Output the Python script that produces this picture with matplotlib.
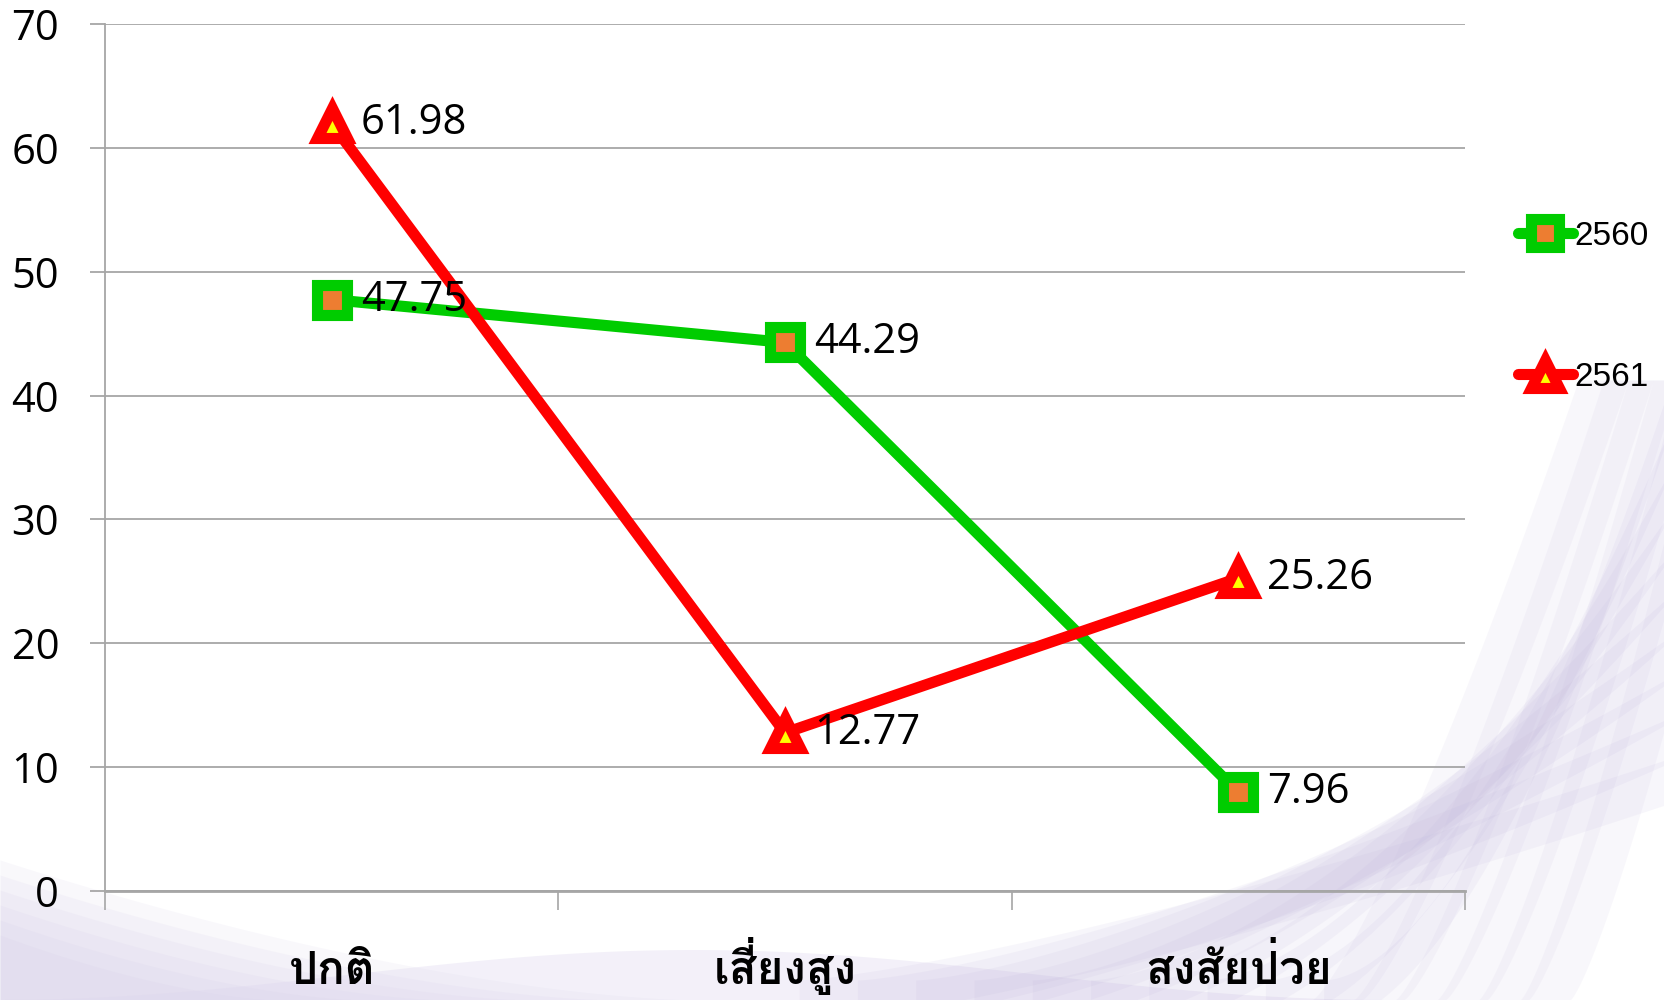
import matplotlib
matplotlib.use("Agg")
import matplotlib.pyplot as plt
import matplotlib.transforms as mtransforms
import numpy as np
from matplotlib import font_manager

categories = ["ปกติ", "เสี่ยงสูง", "สงสัยป่วย"]
series_names = ["2560", "2561"]
values_2560 = [47.75, 44.29, 7.96]
values_2561 = [61.98, 12.77, 25.26]
yticks = [0, 10, 20, 30, 40, 50, 60, 70]

thai_candidates = [f.name for f in font_manager.fontManager.ttflist
                   if "thai" in f.name.lower() or "loma" in f.name.lower()
                   or "garuda" in f.name.lower() or "sarabun" in f.name.lower()]
thai_family = (thai_candidates[:1] if thai_candidates else []) + ["DejaVu Sans"]

fig = plt.figure(figsize=(16.65, 10), dpi=100)

# subtle lavender background swooshes (decoration only)
bg = fig.add_axes([0, 0, 1, 1], zorder=0)
bg.set_xlim(0, 1); bg.set_ylim(0, 1); bg.axis("off")
t = np.linspace(0, 1, 400)
# bottom-left glow
for k in range(6):
    w = 0.42 - 0.05 * k
    xs = np.linspace(0, w, 200)
    bg.fill_between(xs, 0, (0.14 - 0.015 * k) * (1 - xs / w) ** 1.6, color="#cfc6e6", alpha=0.12, lw=0)
bg.fill_between(t, 0, 0.05 * np.sin(np.pi * np.clip(t * 1.2, 0, 1)) ** 2, color="#ddd6ee", alpha=0.35, lw=0)
# right side rising wisps
for k in range(10):
    x0 = 0.48 + 0.035 * k
    xs = np.linspace(x0, 1.0, 300)
    u = (xs - x0) / (1 - x0)
    yc = (0.22 + 0.04 * k) * u ** (1.3 + 0.05 * k)
    bg.fill_between(xs, np.maximum(yc - 0.025, 0), yc + 0.02, color="#b9aed8", alpha=0.10, lw=0)
# vertical-ish wisps
ys = np.linspace(0, 0.62, 300)
for k in range(6):
    xr = 0.80 + 0.025 * k + (0.16 - 0.01 * k) * (ys / 0.62) ** 0.8
    bg.fill_betweenx(ys, xr - 0.012, xr + 0.018, color="#c0b5dd", alpha=0.10, lw=0)

ax = fig.add_axes([105 / 1665, 1 - 891 / 1000, (1465 - 105) / 1665, (891 - 24) / 1000], zorder=1)
ax.patch.set_alpha(0)

x = np.arange(len(categories))
l1, = ax.plot(x, values_2560, color="#00cc00", lw=8, marker="s", markersize=22,
              markerfacecolor="#ed7d31", markeredgecolor="#00cc00", markeredgewidth=8,
              solid_joinstyle="round", solid_capstyle="round", label=series_names[0], zorder=3)
l2, = ax.plot(x, values_2561, color="#ff0000", lw=8, marker="^", markersize=22,
              markerfacecolor="#ffff00", markeredgecolor="#ff0000", markeredgewidth=8,
              solid_joinstyle="round", solid_capstyle="round", label=series_names[1], zorder=4)
for ln in (l1, l2):
    ln.set_markeredgewidth(8)

for xi, v in zip(x, values_2560):
    ax.annotate(f"{v:.2f}", (xi, v), xytext=(21, 0), textcoords="offset points",
                va="center", ha="left", fontsize=30, family="Open Sans", zorder=5)
for xi, v in zip(x, values_2561):
    ax.annotate(f"{v:.2f}", (xi, v), xytext=(21, 0), textcoords="offset points",
                va="center", ha="left", fontsize=30, family="Open Sans", zorder=5)

ax.set_xlim(-0.5, 2.5)
ax.set_ylim(0, 70)
ax.set_yticks(yticks)
ax.set_yticklabels([str(v) for v in yticks], fontsize=30, family="Open Sans")
ax.yaxis.grid(True, color="#a6a6a6", lw=1.3)
ax.set_axisbelow(True)
ax.tick_params(axis="y", length=11, width=1.3, color="#a6a6a6", pad=22)

ax.set_xticks(x)
ax.set_xticklabels([])
ax.set_xticks([-0.5, 0.5, 1.5, 2.5], minor=True)
ax.tick_params(axis="x", which="major", length=0)
ax.tick_params(axis="x", which="minor", length=14, color="#a6a6a6", width=1.2)

blend = mtransforms.blended_transform_factory(ax.transData, fig.transFigure)
for xi, lab in zip(x, categories):
    ax.text(xi, 0.016, lab, transform=blend, ha="center", va="baseline",
            fontsize=33, fontweight="bold", family=thai_family)

for s in ["top", "right"]:
    ax.spines[s].set_visible(False)
ax.spines["left"].set_color("#a6a6a6")
ax.spines["left"].set_linewidth(1.3)
ax.spines["bottom"].set_color("#a6a6a6")
ax.spines["bottom"].set_linewidth(2)

leg = fig.legend(handles=[l1, l2], loc="upper left", bbox_to_anchor=(1501 / 1665, 1 - 204 / 1000),
                 frameon=False, handlelength=1.65, handletextpad=0.05, borderpad=0,
                 labelspacing=3.3, markerscale=0.9,
                 prop={"family": "Liberation Sans", "size": 24})
for h in leg.legend_handles:
    h.set_solid_capstyle("round")

fig.savefig("out.png", dpi=100)
